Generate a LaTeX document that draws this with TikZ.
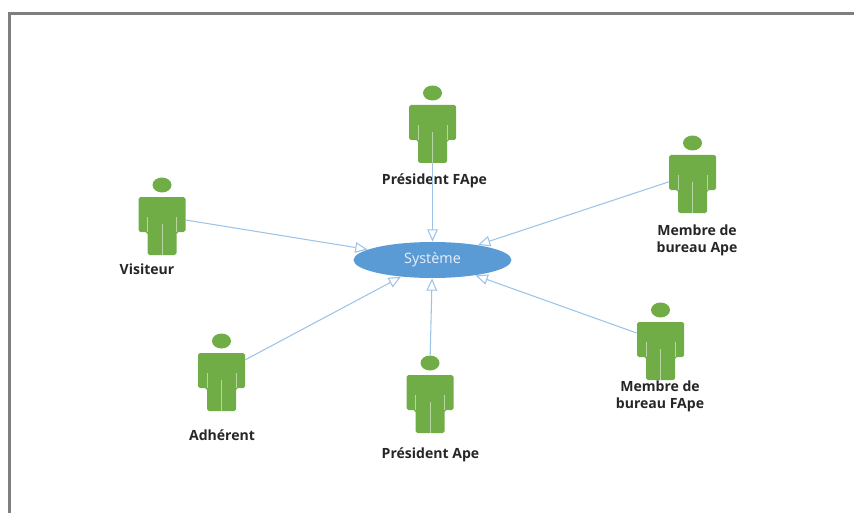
\documentclass[tikz,border=0pt]{standalone}
\usepackage{fontspec}
\setmainfont{Open Sans}
\usetikzlibrary{arrows.meta,%
                shapes.geometric}
\definecolor{vertActeur}{HTML}{70AD47}
\definecolor{bleuSysteme}{HTML}{5B9BD5}
\definecolor{bleuLien}{HTML}{9DC3E6}
\definecolor{grisCadre}{HTML}{7F7F7F}
% #1 name, #2 x of the axis, #3 y of the top of the body
\newcommand{\Acteur}[3]{%
	\node[TeteStyle] (#1Tete) at (#2,#3-12) {};
	\node[CorpsStyle] (#1) at (#2,#3+29) {};
	\fill[vertActeur,rounded corners=1pt] (#2-23.5,#3) -- (#2+23.5,#3) -- (#2+23.5,#3+35)
		-- (#2+14.5,#3+35) -- (#2+14.5,#3+58) -- (#2-14.5,#3+58)
		-- (#2-14.5,#3+35) -- (#2-23.5,#3+35) -- cycle;
	\draw[PliStyle] (#2-14.5,#3+20) -- (#2-14.5,#3+35);
	\draw[PliStyle] (#2+14.5,#3+20) -- (#2+14.5,#3+35);
	\draw[PliStyle] (#2,#3+27) -- (#2,#3+58);
}
\begin{document}
\begin{tikzpicture}[x=0.02cm,y=-0.02cm]
	\tikzstyle{TeteStyle}=[ellipse,fill=vertActeur,minimum width=0.38cm,minimum height=0.3cm,inner sep=0pt]
	\tikzstyle{CorpsStyle}=[rectangle,minimum width=0.94cm,minimum height=1.16cm,inner sep=0pt]
	\tikzstyle{PliStyle}=[draw=vertActeur!50!white,line width=0.4pt]
	\tikzstyle{LabelStyle}=[font=\fontsize{8}{9.5}\selectfont\bfseries,align=center,text=black!85]
	\tikzstyle{EdgeStyle}=[draw=bleuLien,line width=0.6pt,-{Triangle[open,fill=white,length=7pt,width=6pt]}]
	\useasboundingbox (0,0) rectangle (854,513);
	\draw[grisCadre,line width=1.5pt] (9.5,513) -- (9.5,13.5) -- (854,13.5);
	% the system
	\node[ellipse,fill=bleuSysteme,text=white!85!bleuSysteme,minimum width=3.16cm,minimum height=0.72cm,inner sep=0pt,font=\fontsize{8.2}{9}\selectfont] (Systeme) at (432.5,260) {\raisebox{-0.5pt}{Système}};
	\Acteur{Visiteur}{162}{197}
	\Acteur{PresidentFApe}{432.5}{105}
	\Acteur{MembreApe}{692.5}{155}
	\Acteur{Adherent}{221.5}{353}
	\Acteur{PresidentApe}{430}{375}
	\Acteur{MembreFApe}{660.5}{322}
	% the labels
	\node[LabelStyle] (lVisiteur) at (147,269) {Visiteur};
	\node[LabelStyle] (lPresidentFApe) at (434.5,180.5) {Président FApe};
	\node[LabelStyle] (lMembreApe) at (697,240.5) {Membre de\\ bureau Ape};
	\node[LabelStyle] (lAdherent) at (222,435) {Adhérent};
	\node[LabelStyle] (lPresidentApe) at (430.5,455) {Président Ape};
	\node[LabelStyle] (lMembreFApe) at (660,396) {Membre de\\ bureau FApe};
	% the links
	\draw[EdgeStyle] (Visiteur.14) -- (Systeme);
	\draw[EdgeStyle] (PresidentFApe.south) -- (Systeme);
	\draw[EdgeStyle] (MembreApe.175) -- (Systeme);
	\draw[EdgeStyle] (Adherent.43) -- (Systeme);
	\draw[EdgeStyle] (PresidentApeTete) -- (Systeme);
	\draw[EdgeStyle] (MembreFApe.143) -- (Systeme);
\end{tikzpicture}
\end{document}
